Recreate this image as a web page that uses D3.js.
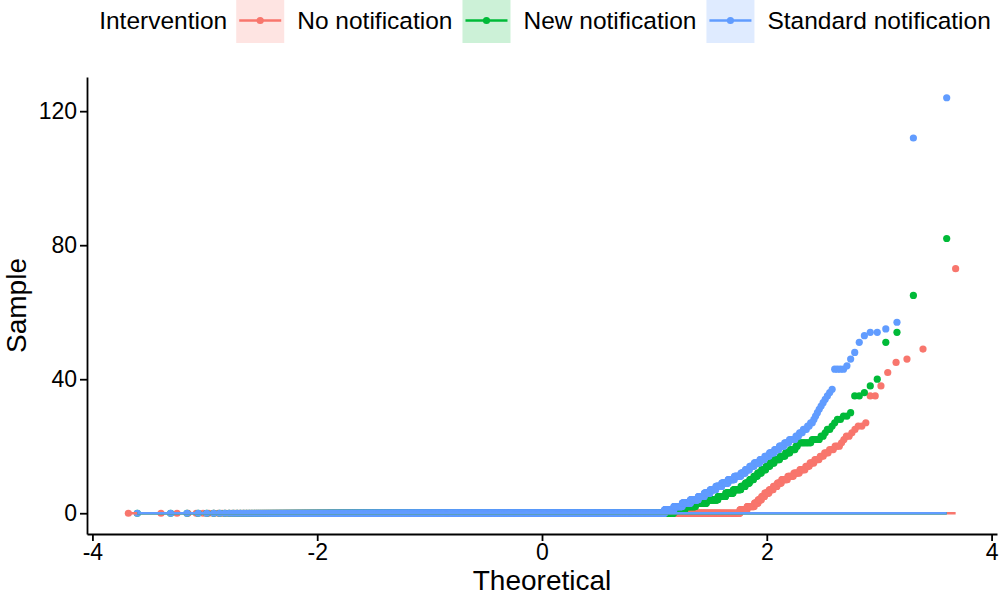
<!DOCTYPE html>
<html>
<head>
<meta charset="utf-8">
<script src="https://cdn.jsdelivr.net/npm/d3@7"></script>
<style>
  body { margin: 0; background: #fff; }
  text { font-family: "Liberation Sans", Arial, sans-serif; fill: #000; }
</style>
</head>
<body>
<svg id="chart" width="1001" height="598"></svg>
<script>
// Intervention groups, drawn in this order
const groups = ["No notification", "New notification", "Standard notification"];
const groupColors = ["#F8766D", "#00BA38", "#619CFF"];
const keyFills = ["#FEE4E2", "#CCF1D7", "#DFEBFF"];
const legendTitle = "Intervention";

// Number of observations per group
const sampleSizes = [4290, 3150, 3150];

// Non-zero observations per group as [value, count]; all remaining observations are 0
const noNotificationValues = [
  [1,22],[2,20],[3,9],[4,8],[5,7],[6,9],[7,8],[8,7],[9,7],[10,9],[11,8],[12,7],[13,6],
  [14,4],[15,4],[16,4],[17,3],[18,3],[19,3],[20,3],[21,1],[22,1],[23,2],[24,1],[25,1],
  [26,2],[27,1],[35,2],[38,1],[42,1],[45,1],[46,1],[49,1],[73,1]
];
const newNotificationValues = [
  [1,60],[2,50],[3,45],[4,41],[5,24],[6,21],[7,19],[8,10],[9,9],[10,8],[11,7],[12,7],
  [13,7],[14,6],[15,6],[16,7],[17,6],[18,5],[19,5],[20,2],[21,10],[22,5],[23,2],[24,1],
  [25,2],[26,1],[27,1],[28,2],[29,2],[30,1],[35,2],[36,1],[38,1],[40,1],[51,1],[54,1],
  [65,1],[82,1]
];
const standardNotificationValues = [
  [1,55],[2,45],[3,40],[4,35],[5,25],[6,22],[7,20],[8,19],[9,19],[10,17],[11,16],[12,10],
  [13,9],[14,9],[15,10],[16,8],[17,7],[18,7],[19,6],[20,6],[21,5],[22,6],[23,3],[24,3],
  [25,3],[26,2],[27,2],[28,1],[29,1],[30,1],[31,1],[32,1],[33,1],[34,1],[35,1],[36,1],
  [37,1],[43,4],[44,1],[46,1],[48,1],[51,1],[53,1],[54,2],[55,1],[57,1],[112,1],[124,1]
];
const groupValues = [noNotificationValues, newNotificationValues, standardNotificationValues];

// Axis ticks and titles
const xTicks = [-4, -2, 0, 2, 4];
const yTicks = [0, 40, 80, 120];
const xTitle = "Theoretical";
const yTitle = "Sample";

// Inverse standard normal CDF (Acklam's rational approximation)
function qnorm(p) {
  const a = [-3.969683028665376e+01, 2.209460984245205e+02, -2.759285104469687e+02,
             1.383577518672690e+02, -3.066479806614716e+01, 2.506628277459239e+00];
  const b = [-5.447609879822406e+01, 1.615858368580409e+02, -1.556989798598866e+02,
             6.680131188771972e+01, -1.328068155288572e+01];
  const c = [-7.784894002430293e-03, -3.223964580411365e-01, -2.400758277161838e+00,
             -2.549732539343734e+00, 4.374664141464968e+00, 2.938163982698783e+00];
  const d = [7.784695709041462e-03, 3.224671290700398e-01, 2.445134137142996e+00,
             3.754408661907416e+00];
  const pl = 0.02425, ph = 1 - pl;
  let q, r;
  if (p < pl) {
    q = Math.sqrt(-2 * Math.log(p));
    return (((((c[0]*q+c[1])*q+c[2])*q+c[3])*q+c[4])*q+c[5]) / ((((d[0]*q+d[1])*q+d[2])*q+d[3])*q+1);
  }
  if (p > ph) {
    q = Math.sqrt(-2 * Math.log(1 - p));
    return -(((((c[0]*q+c[1])*q+c[2])*q+c[3])*q+c[4])*q+c[5]) / ((((d[0]*q+d[1])*q+d[2])*q+d[3])*q+1);
  }
  q = p - 0.5; r = q * q;
  return (((((a[0]*r+a[1])*r+a[2])*r+a[3])*r+a[4])*r+a[5])*q / (((((b[0]*r+b[1])*r+b[2])*r+b[3])*r+b[4])*r+1);
}

// Expand run-length values into a sorted sample, then pair with normal quantiles
const qqData = groups.map((g, gi) => {
  const n = sampleSizes[gi];
  const nonZero = [];
  groupValues[gi].forEach(([v, c]) => { for (let k = 0; k < c; k++) nonZero.push(v); });
  const sample = new Array(n - nonZero.length).fill(0).concat(nonZero).sort((a, b) => a - b);
  const a = n <= 10 ? 3 / 8 : 0.5;
  const points = sample.map((s, i) => ({ theoretical: qnorm((i + 1 - a) / (n + 1 - 2 * a)), sample: s }));
  // Reference line through the quartiles
  const q1 = d3.quantile(sample, 0.25), q3 = d3.quantile(sample, 0.75);
  const z1 = qnorm(0.25), z3 = qnorm(0.75);
  const slope = (q3 - q1) / (z3 - z1);
  const intercept = q1 - slope * z1;
  const tMin = points[0].theoretical, tMax = points[points.length - 1].theoretical;
  const line = [
    { theoretical: tMin, sample: intercept + slope * tMin },
    { theoretical: tMax, sample: intercept + slope * tMax }
  ];
  return { group: g, color: groupColors[gi], points, line };
});

const svg = d3.select("#chart");
const panel = { left: 87, right: 997, top: 77, bottom: 534 };

const allPoints = qqData.flatMap(d => d.points);
const xExt = d3.extent(allPoints, d => d.theoretical);
const yExt = d3.extent(allPoints, d => d.sample);
const xPad = (xExt[1] - xExt[0]) * 0.05, yPad = (yExt[1] - yExt[0]) * 0.05;

const x = d3.scaleLinear().domain([xExt[0] - xPad, xExt[1] + xPad]).range([panel.left, panel.right]);
const y = d3.scaleLinear().domain([yExt[0] - yPad, yExt[1] + yPad]).range([panel.bottom, panel.top]);

// Points
const plot = svg.append("g");
qqData.forEach(d => {
  plot.append("g")
    .selectAll("circle")
    .data(d.points)
    .join("circle")
    .attr("cx", p => x(p.theoretical))
    .attr("cy", p => y(p.sample))
    .attr("r", 3.6)
    .attr("fill", d.color);
});

// Reference lines
const lineGen = d3.line().x(p => x(p.theoretical)).y(p => y(p.sample));
qqData.forEach(d => {
  plot.append("path")
    .attr("d", lineGen(d.line))
    .attr("fill", "none")
    .attr("stroke", d.color)
    .attr("stroke-width", 2.4);
});

// Axes
const fmt = v => String(v);
const xAxis = svg.append("g")
  .attr("transform", `translate(0,${panel.bottom})`)
  .call(d3.axisBottom(x).tickValues(xTicks).tickFormat(fmt).tickSize(7).tickSizeOuter(0).tickPadding(3));
const yAxis = svg.append("g")
  .attr("transform", `translate(${panel.left},0)`)
  .call(d3.axisLeft(y).tickValues(yTicks).tickFormat(fmt).tickSize(7).tickSizeOuter(0).tickPadding(3));
[xAxis, yAxis].forEach(ax => {
  ax.select(".domain").attr("stroke", "#000").attr("stroke-width", 1.8);
  ax.selectAll(".tick line").attr("stroke", "#000").attr("stroke-width", 1.8);
  ax.selectAll(".tick text").attr("font-size", 23).attr("font-family", "Liberation Sans, Arial, sans-serif").attr("fill", "#000");
});

// Axis titles
svg.append("text")
  .attr("x", (panel.left + panel.right) / 2)
  .attr("y", 590)
  .attr("text-anchor", "middle")
  .attr("font-size", 28)
  .text(xTitle);
svg.append("text")
  .attr("transform", `translate(26,${(panel.top + panel.bottom) / 2}) rotate(-90)`)
  .attr("text-anchor", "middle")
  .attr("font-size", 28)
  .text(yTitle);

// Legend
const legend = svg.append("g");
const fs = 24.5, keyW = 48, keyTop = -2, keyH = 45, midY = 20.5;
let cx = 0;
const title = legend.append("text").attr("x", cx).attr("y", midY).attr("dy", "0.35em").attr("font-size", fs).text(legendTitle);
cx += title.node().getComputedTextLength() + 9;
groups.forEach((g, gi) => {
  legend.append("rect").attr("x", cx).attr("y", keyTop).attr("width", keyW).attr("height", keyH).attr("fill", keyFills[gi]);
  legend.append("line").attr("x1", cx + 3).attr("x2", cx + keyW - 3).attr("y1", midY).attr("y2", midY)
    .attr("stroke", groupColors[gi]).attr("stroke-width", 2.4);
  legend.append("circle").attr("cx", cx + keyW / 2).attr("cy", midY).attr("r", 3.6).attr("fill", groupColors[gi]);
  cx += keyW + 13;
  const t = legend.append("text").attr("x", cx).attr("y", midY).attr("dy", "0.35em").attr("font-size", fs).text(g);
  cx += t.node().getComputedTextLength() + (gi < groups.length - 1 ? 10 : 0);
});
legend.attr("transform", `translate(${545 - cx / 2},0)`);
</script>
</body>
</html>
